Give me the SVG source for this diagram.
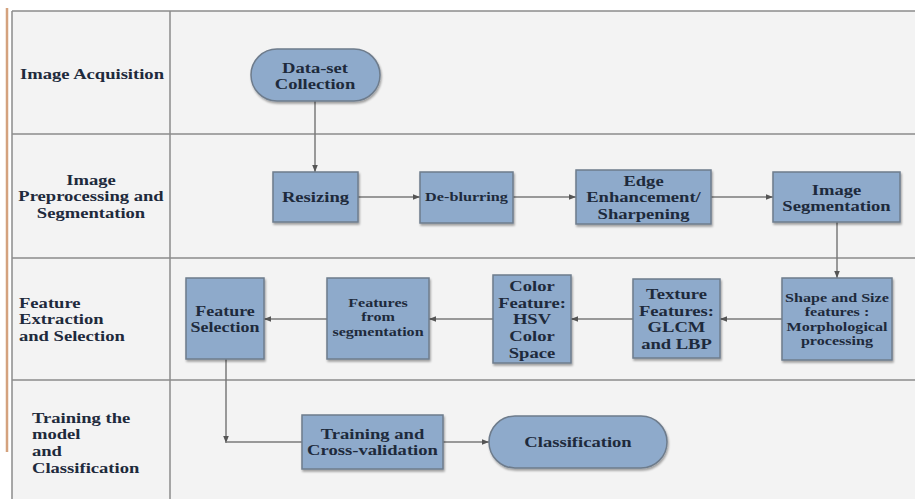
<svg xmlns="http://www.w3.org/2000/svg" width="915" height="499" viewBox="0 0 915 499">
<defs>
<marker id="ah" viewBox="0 0 10 10" refX="10" refY="5" markerWidth="7" markerHeight="7" markerUnits="userSpaceOnUse" orient="auto">
<path d="M0,1 L10,5 L0,9 z" fill="#555"/>
</marker>
<filter id="sh" x="-10%" y="-10%" width="125%" height="125%">
<feGaussianBlur in="SourceAlpha" stdDeviation="1.2"/>
<feOffset dx="1" dy="1.5" result="b"/>
<feComponentTransfer><feFuncA type="linear" slope="0.35"/></feComponentTransfer>
<feMerge><feMergeNode/><feMergeNode in="SourceGraphic"/></feMerge>
</filter>
</defs>
<style>
.lane{fill:#f3f3f3}
.grid{stroke:#8c8c8c;stroke-width:1.5;fill:none}
.box{fill:#8eaacb;stroke:#6e7c8c;stroke-width:1.5;filter:url(#sh)}
.conn{stroke:#7a7a7a;stroke-width:1.5;fill:none}
.t{font-family:"Liberation Serif","Times New Roman",serif;font-weight:bold;fill:#1e2a3c;text-anchor:middle}
.lbl{font-family:"Liberation Serif","Times New Roman",serif;font-weight:bold;fill:#1e2a3c;font-size:15px}
</style>
<rect x="0" y="0" width="915" height="499" fill="#ffffff"/>
<rect class="lane" x="12" y="11" width="903" height="488"/>
<line x1="7" y1="8" x2="7" y2="452" stroke="#d4a27e" stroke-width="2.5"/>
<g id="lanes">
<path class="grid" d="M12,11 H915 M12,134 H915 M12,258 H915 M12,380 H915 M12,11 V499 M170,11 V499"/>
<text class="lbl" transform="translate(20,79) scale(1.24,1)">Image Acquisition</text>
<text class="lbl" text-anchor="middle" transform="translate(91,185) scale(1.24,1)"><tspan x="0" y="0">Image</tspan><tspan x="0" y="16.5">Preprocessing and</tspan><tspan x="0" y="33">Segmentation</tspan></text>
<text class="lbl" transform="translate(19,308) scale(1.24,1)"><tspan x="0" y="0">Feature</tspan><tspan x="0" y="16.5">Extraction</tspan><tspan x="0" y="33">and Selection</tspan></text>
<text class="lbl" transform="translate(32,423) scale(1.24,1)"><tspan x="0" y="0">Training the</tspan><tspan x="0" y="16.5">model</tspan><tspan x="0" y="33">and</tspan><tspan x="0" y="50">Classification</tspan></text>
</g>
<g id="connectors">
<line class="conn" x1="315" y1="101" x2="315" y2="172" marker-end="url(#ah)"/>
<line class="conn" x1="358" y1="197" x2="420" y2="197" marker-end="url(#ah)"/>
<line class="conn" x1="513" y1="197" x2="576" y2="197" marker-end="url(#ah)"/>
<line class="conn" x1="711" y1="197" x2="773" y2="197" marker-end="url(#ah)"/>
<line class="conn" x1="837" y1="222" x2="837" y2="278" marker-end="url(#ah)"/>
<line class="conn" x1="782" y1="319" x2="720" y2="319" marker-end="url(#ah)"/>
<line class="conn" x1="633" y1="319" x2="571" y2="319" marker-end="url(#ah)"/>
<line class="conn" x1="493" y1="319" x2="429" y2="319" marker-end="url(#ah)"/>
<line class="conn" x1="327" y1="319" x2="264" y2="319" marker-end="url(#ah)"/>
<line class="conn" x1="226" y1="359" x2="226" y2="443" marker-end="url(#ah)"/>
<line class="conn" x1="226" y1="442" x2="302" y2="442"/>
<line class="conn" x1="443" y1="442" x2="489" y2="442" marker-end="url(#ah)"/>
</g>
<g id="n-dataset">
<rect class="box" x="251" y="49" width="129" height="52" rx="26"/>
<text class="t" font-size="15" transform="translate(315,73) scale(1.24,1)"><tspan x="0" y="0">Data-set</tspan><tspan x="0" y="16">Collection</tspan></text>
</g>
<g id="n-resizing">
<rect class="box" x="273" y="172" width="85" height="50"/>
<text class="t" font-size="15" transform="translate(315.5,202) scale(1.24,1)">Resizing</text>
</g>
<g id="n-deblurring">
<rect class="box" x="420" y="172" width="93" height="51"/>
<text class="t" font-size="13.5" transform="translate(466.5,201) scale(1.2,1)">De-blurring</text>
</g>
<g id="n-edge">
<rect class="box" x="576" y="170" width="135" height="54"/>
<text class="t" font-size="15" transform="translate(643.5,186) scale(1.24,1)"><tspan x="0" y="0">Edge</tspan><tspan x="0" y="16.3">Enhancement/</tspan><tspan x="0" y="32.6">Sharpening</tspan></text>
</g>
<g id="n-imgseg">
<rect class="box" x="773" y="172" width="127" height="50"/>
<text class="t" font-size="15" transform="translate(836.5,195) scale(1.24,1)"><tspan x="0" y="0">Image</tspan><tspan x="0" y="16">Segmentation</tspan></text>
</g>
<g id="n-shape">
<rect class="box" x="782" y="278" width="110" height="82"/>
<text class="t" font-size="13" transform="translate(837,302) scale(1.24,1)"><tspan x="0" y="0">Shape and Size</tspan><tspan x="0" y="14.3">features :</tspan><tspan x="0" y="28.6">Morphological</tspan><tspan x="0" y="42.9">processing</tspan></text>
</g>
<g id="n-texture">
<rect class="box" x="633" y="279" width="87" height="79"/>
<text class="t" font-size="15" transform="translate(676.5,299) scale(1.24,1)"><tspan x="0" y="0">Texture</tspan><tspan x="0" y="16.7">Features:</tspan><tspan x="0" y="33.4">GLCM</tspan><tspan x="0" y="50.1">and LBP</tspan></text>
</g>
<g id="n-color">
<rect class="box" x="493" y="275" width="78" height="88"/>
<text class="t" font-size="15" transform="translate(532,291) scale(1.24,1)"><tspan x="0" y="0">Color</tspan><tspan x="0" y="16.7">Feature:</tspan><tspan x="0" y="33.4">HSV</tspan><tspan x="0" y="50.1">Color</tspan><tspan x="0" y="66.8">Space</tspan></text>
</g>
<g id="n-featseg">
<rect class="box" x="327" y="278" width="102" height="81"/>
<text class="t" font-size="13" transform="translate(378,307) scale(1.24,1)"><tspan x="0" y="0">Features</tspan><tspan x="0" y="14.5">from</tspan><tspan x="0" y="29">segmentation</tspan></text>
</g>
<g id="n-featsel">
<rect class="box" x="186" y="278" width="78" height="81"/>
<text class="t" font-size="14.5" transform="translate(225,316) scale(1.24,1)"><tspan x="0" y="0">Feature</tspan><tspan x="0" y="16.5">Selection</tspan></text>
</g>
<g id="n-training">
<rect class="box" x="302" y="415" width="141" height="54"/>
<text class="t" font-size="15" transform="translate(372.5,439) scale(1.24,1)"><tspan x="0" y="0">Training and</tspan><tspan x="0" y="16.5">Cross-validation</tspan></text>
</g>
<g id="n-classification">
<rect class="box" x="489" y="416" width="178" height="52" rx="26"/>
<text class="t" font-size="15" transform="translate(578,447) scale(1.24,1)">Classification</text>
</g>
</svg>
